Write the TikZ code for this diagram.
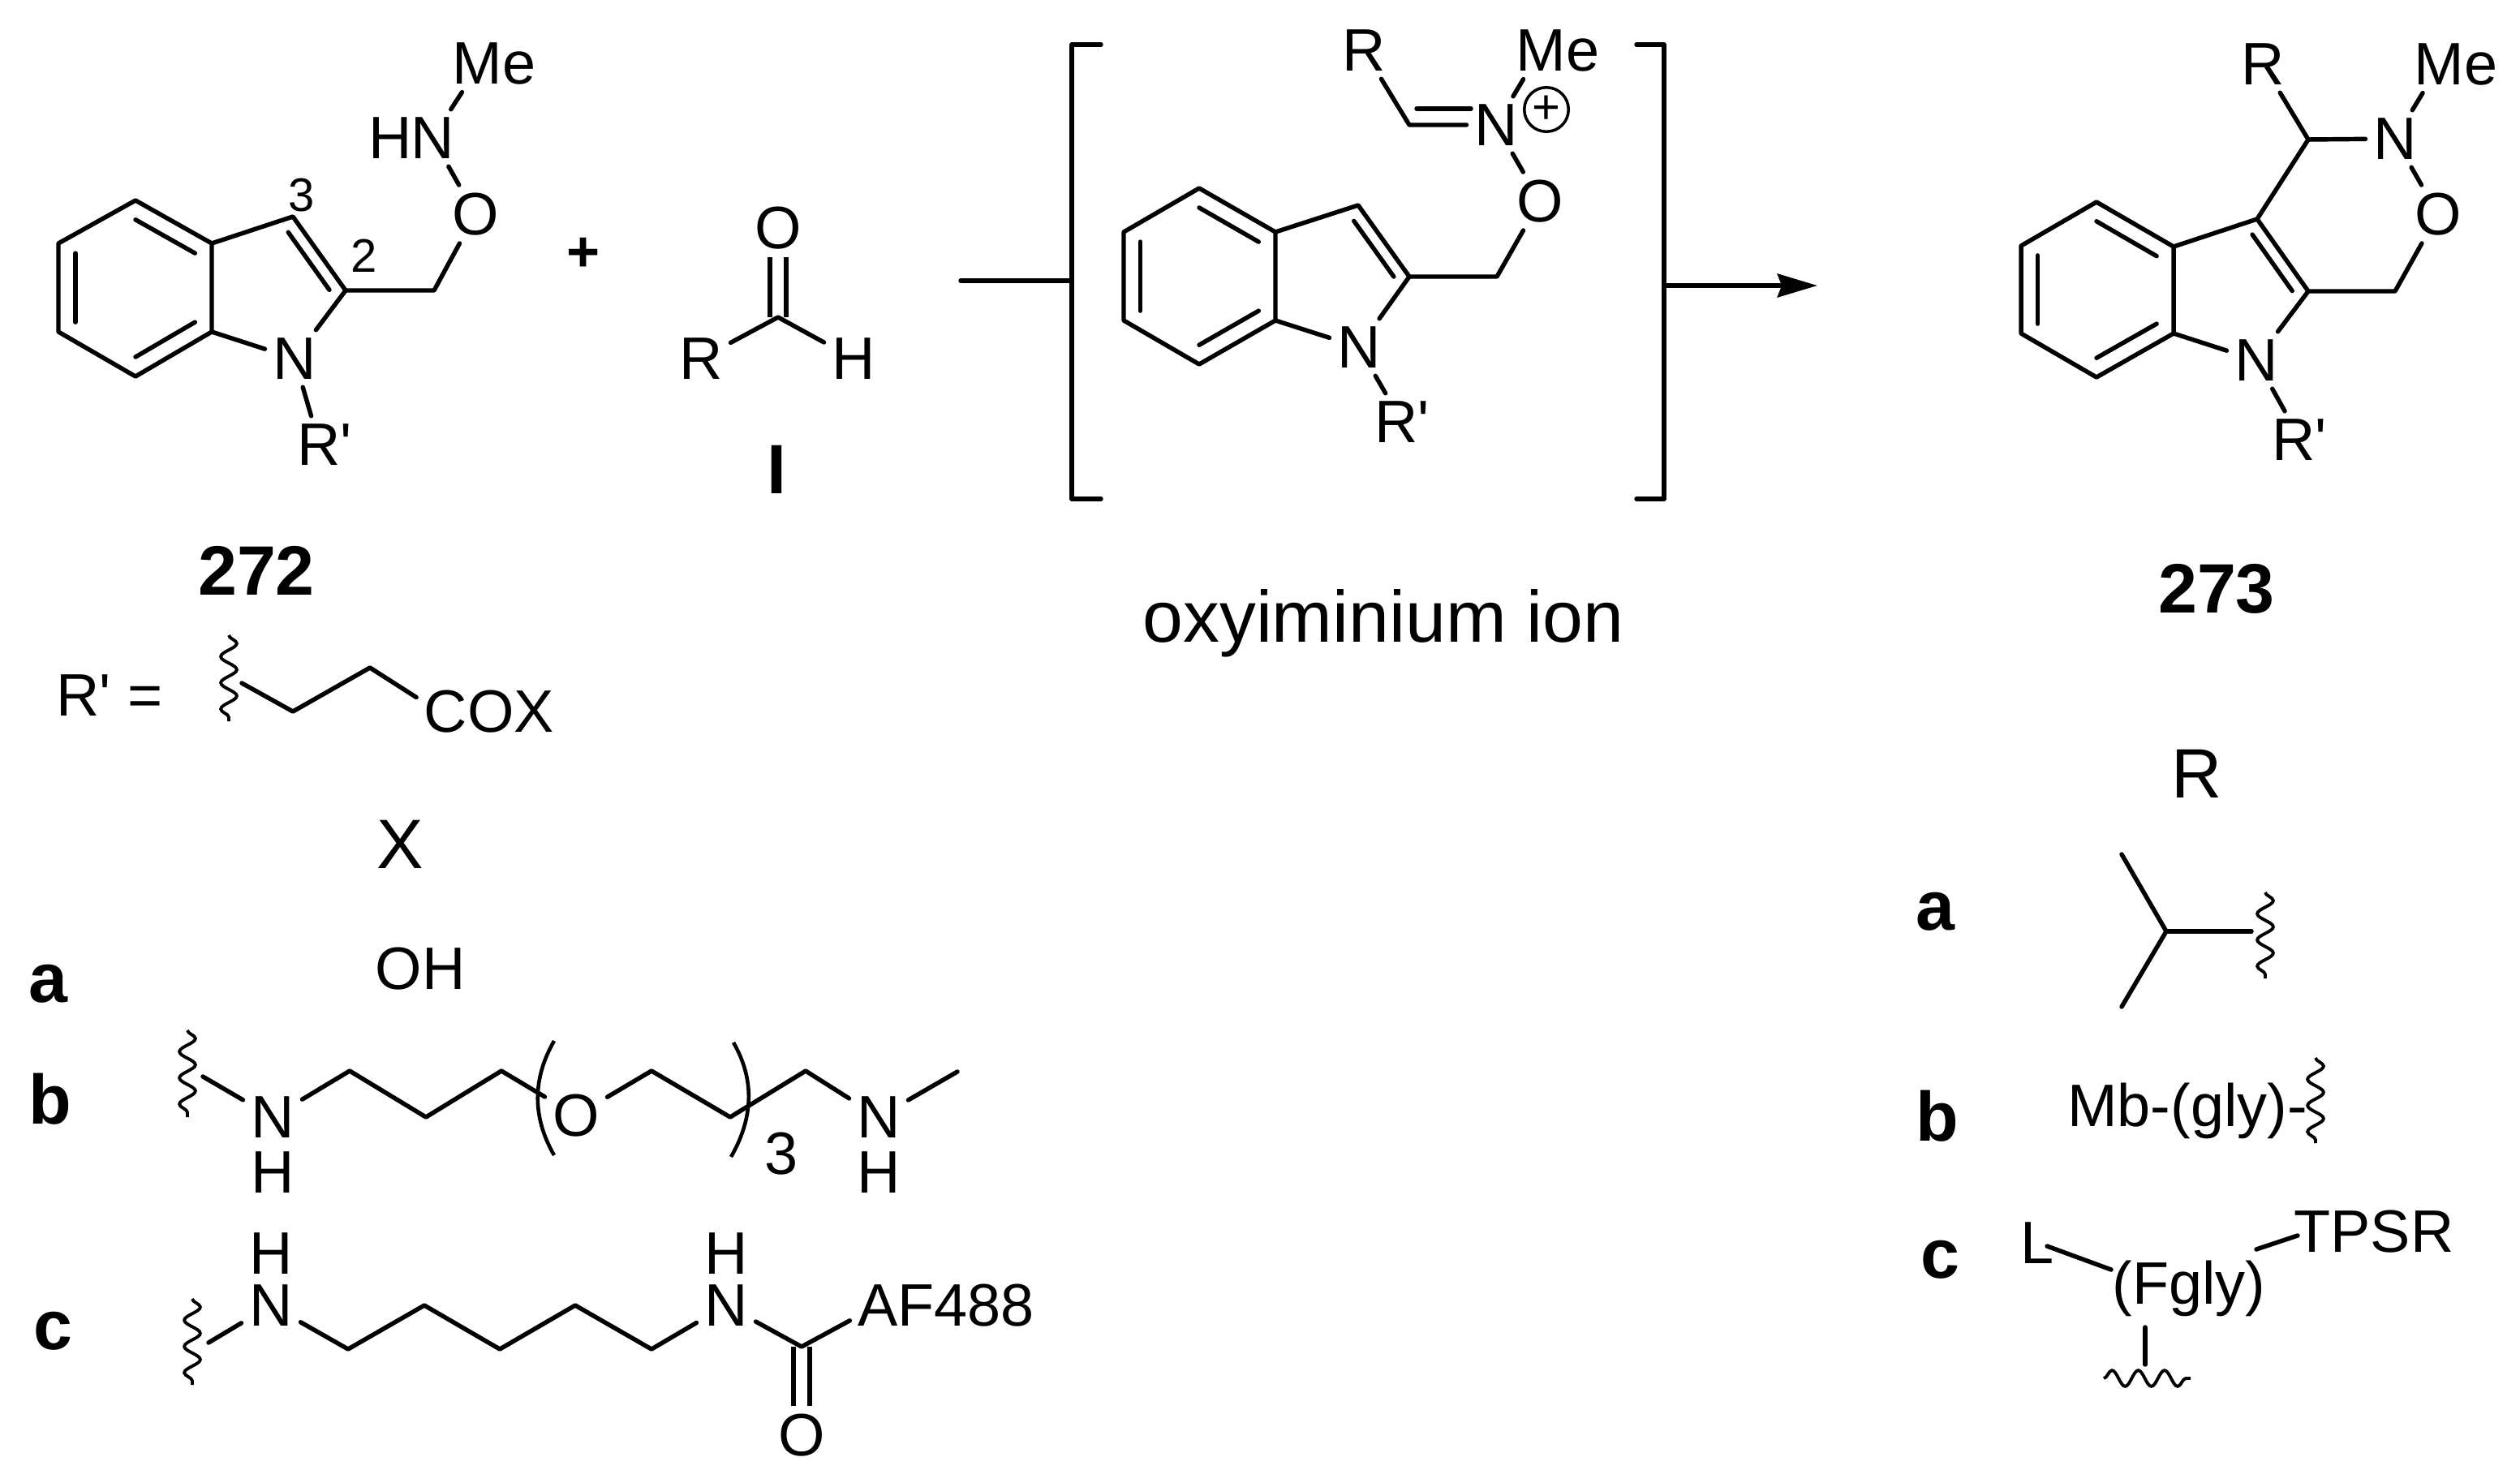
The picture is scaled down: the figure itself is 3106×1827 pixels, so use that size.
\documentclass[tikz,border=0pt]{standalone}
\usepackage{fontspec}
\setmainfont{Liberation Sans}
\usetikzlibrary{calc,arrows.meta,decorations.pathmorphing}
\newcommand{\innerbond}[3]{\draw[bond] ($(#1)!0.78!(#2)$) -- ($(#1)!0.78!(#3)$);}
\tikzset{
  bond/.style={line width=1.55pt, line cap=round, line join=round},
  dbl/.style={line width=1.55pt, line cap=butt, double, double distance=4.1pt},
  paren/.style={line width=1.3pt},
  wavy/.style={line width=1.1pt, decorate, decoration={snake, amplitude=2.8pt, segment length=9.2pt}},
  atom/.style={inner sep=0pt, outer sep=2.8pt, font=\fontsize{21pt}{24pt}\selectfont},
  num/.style={inner sep=0pt, font=\fontsize{16.5pt}{20pt}\selectfont},
  big/.style={inner sep=0pt, font=\fontsize{24.5pt}{28pt}\selectfont},
  tag/.style={inner sep=0pt, font=\fontsize{24.5pt}{28pt}\selectfont\bfseries},
}
\begin{document}
\begin{tikzpicture}[x=0.01cm,y=-0.01cm]
\useasboundingbox (0,0) rectangle (3106,1827);

\coordinate (a1) at (167,247);
\coordinate (a2) at (261,300);
\coordinate (a3) at (261,409);
\coordinate (a4) at (167,464);
\coordinate (a5) at (72,409);
\coordinate (a6) at (72,300);
\coordinate (ac) at (167,355);
\coordinate (af) at (335,355);
\coordinate (ac3) at (361,267);
\coordinate (ac2) at (426,358);
\coordinate (ach) at (535,358);
\node[atom] (an) at (363,442) {N};
\node[atom] (arp) at (400,548) {R\textquotesingle};
\node[atom] (ao) at (586,264) {O};
\node[atom] (ann) at (533,170) {N};
\node[atom] (ahh) at (481,170) {H};
\node[atom] (ame) at (609,78) {Me};
\node[num] (alab3) at (372,241) {3};
\node[num] (alab2) at (449,315) {2};
\draw[bond] (a1) -- (a2) -- (a3) -- (a4) -- (a5) -- (a6) -- cycle;
\draw[bond] (a2) -- (ac3) -- (ac2) -- (ach) -- (ao) -- (ann) -- (ame.222);
\draw[bond] (a3) -- (an) -- (ac2);
\draw[bond] (an) -- (arp.115);
\innerbond{ac}{a1}{a2}
\innerbond{ac}{a3}{a4}
\innerbond{ac}{a5}{a6}
\innerbond{af}{ac3}{ac2}

\node[font=\fontsize{20pt}{24pt}\selectfont\bfseries, inner sep=0pt] (plus) at (719,314) {+};

\node[atom] (io) at (959,281) {O};
\coordinate (ic) at (959,391);
\node[atom] (ir) at (864,442) {R};
\node[atom] (ih) at (1052,442) {H};
\draw[dbl] (io) -- (ic);
\draw[bond] (ir) -- (ic) -- (ih);
\node[tag] (inum) at (957,579) {I};

\node[tag] (num272) at (316,703) {272};
\node[atom] (req) at (135,857) {R\textquotesingle{} =};
\coordinate (w1a) at (282,783);
\coordinate (w1b) at (282,889);
\coordinate (w1m) at (298,842);
\coordinate (x1) at (361,877);
\coordinate (x2) at (456,823);
\node[atom] (cox) at (603,877) {COX};
\draw[wavy] (w1a) -- (w1b);
\draw[bond] (w1m) -- (x1) -- (x2) -- (cox.169);

\node[big] (xhead) at (493,1041) {X};
\node[tag] (la) at (59,1213) {a};
\node[atom] (oh) at (518,1194) {OH};

\node[tag] (lb) at (62,1355) {b};
\coordinate (w2a) at (231,1270);
\coordinate (w2b) at (231,1377);
\coordinate (w2m) at (250,1327);
\node[atom] (bn1) at (336,1377) {N};
\node[atom] (bh1) at (336,1445) {H};
\coordinate (b1) at (431,1320);
\coordinate (b2) at (525,1377);
\coordinate (b3) at (618,1320);
\node[atom] (bo) at (710,1375) {O};
\coordinate (b4) at (803,1320);
\coordinate (b5) at (900,1377);
\coordinate (b6) at (993,1320);
\node[atom] (bn2) at (1083,1377) {N};
\node[atom] (bh2) at (1083,1445) {H};
\coordinate (b7) at (1180,1321);
\coordinate (pl1) at (683,1283);
\coordinate (pl2) at (683,1424);
\coordinate (pr1) at (904,1285);
\coordinate (pr2) at (901,1426);
\node[atom] (bthree) at (963,1422) {3};
\draw[wavy] (w2a) -- (w2b);
\draw[bond] (w2m) -- (bn1) -- (b1) -- (b2) -- (b3) -- (bo) -- (b4) -- (b5) -- (b6) -- (bn2) -- (b7);
\draw[paren] (pl1) .. controls +(-27,47) and +(-27,-47) .. (pl2);
\draw[paren] (pr1) .. controls +(27,47) and +(27,-47) .. (pr2);

\node[tag] (lc) at (65,1641) {c};
\coordinate (w3a) at (237,1601);
\coordinate (w3b) at (237,1707);
\coordinate (w3m) at (257,1655);
\node[atom] (cn1) at (334,1609) {N};
\node[atom] (ch1) at (334,1545) {H};
\coordinate (c1) at (429,1663);
\coordinate (c2) at (523,1609);
\coordinate (c3) at (616,1663);
\coordinate (c4) at (709,1609);
\coordinate (c5) at (803,1663);
\node[atom] (cn2) at (895,1609) {N};
\node[atom] (ch2) at (895,1545) {H};
\coordinate (c6) at (988,1660);
\node[atom] (caf) at (1166,1609) {AF488};
\node[atom] (co) at (988,1769) {O};
\draw[wavy] (w3a) -- (w3b);
\draw[dbl] (co) -- (c6);
\draw[bond] (w3m) -- (cn1) -- (c1) -- (c2) -- (c3) -- (c4) -- (c5) -- (cn2) -- (c6) -- (caf.189);

\coordinate (stub) at (1184,346);
\coordinate (bl0) at (1321,346);
\coordinate (bl1) at (1357,55);
\coordinate (bl2) at (1321,55);
\coordinate (bl3) at (1321,615);
\coordinate (bl4) at (1357,615);
\coordinate (br1) at (2017,55);
\coordinate (br2) at (2051,55);
\coordinate (br3) at (2051,615);
\coordinate (br4) at (2017,615);
\coordinate (br0) at (2051,352);
\coordinate (tip) at (2240,352);
\draw[bond] (bl1) -- (bl2) -- (bl3) -- (bl4);
\draw[bond] (br1) -- (br2) -- (br3) -- (br4);
\draw[bond] (stub) -- (bl0);
\draw[bond,-{Stealth[length=14pt,width=8.2pt,inset=1.5pt]}] (br0) -- (tip);

\coordinate (m1) at (1478,232);
\coordinate (m2) at (1572,286);
\coordinate (m3) at (1572,395);
\coordinate (m4) at (1478,449);
\coordinate (m5) at (1385,395);
\coordinate (m6) at (1385,286);
\coordinate (mc) at (1478,341);
\coordinate (mf) at (1650,341);
\coordinate (mc3) at (1674,253);
\coordinate (mc2) at (1737,341);
\coordinate (mch) at (1845,341);
\coordinate (meq) at (1737,154);
\coordinate (mu1) at (1746,134);
\coordinate (mu2) at (1813,134);
\node[atom] (mn) at (1675,428) {N};
\node[atom] (mrp) at (1728,520) {R\textquotesingle};
\node[atom] (mo) at (1898,248) {O};
\node[atom] (mnn) at (1844,154) {N};
\node[atom] (mr) at (1681,62) {R};
\node[atom] (mme) at (1920,62) {Me};
\node[circle, draw, line width=1pt, minimum size=15.5pt, inner sep=0pt, font=\fontsize{17pt}{18pt}\selectfont] (mplus) at (1906,135) {+};
\draw[bond] (m1) -- (m2) -- (m3) -- (m4) -- (m5) -- (m6) -- cycle;
\draw[bond] (m2) -- (mc3) -- (mc2) -- (mch) -- (mo) -- (mnn) -- (mme.220);
\draw[bond] (m3) -- (mn) -- (mc2);
\draw[bond] (mn) -- (mrp.120);
\draw[bond] (mr) -- (meq) -- (mnn);
\draw[bond] (mu1) -- (mu2);
\innerbond{mc}{m1}{m2}
\innerbond{mc}{m3}{m4}
\innerbond{mc}{m5}{m6}
\innerbond{mf}{mc3}{mc2}
\node[font=\fontsize{25.5pt}{30pt}\selectfont, inner sep=0pt, anchor=base] (oxy) at (1705,791) {oxyiminium ion};

\coordinate (p1) at (2584,249);
\coordinate (p2) at (2679,304);
\coordinate (p3) at (2679,411);
\coordinate (p4) at (2584,465);
\coordinate (p5) at (2491,411);
\coordinate (p6) at (2491,303);
\coordinate (pc) at (2584,357);
\coordinate (pf) at (2755,357);
\coordinate (pc3) at (2782,270);
\coordinate (pc2) at (2845,359);
\coordinate (pch) at (2952,359);
\coordinate (pcr) at (2845,172);
\node[atom] (pn) at (2781,444) {N};
\node[atom] (prp) at (2834,542) {R\textquotesingle};
\node[atom] (po) at (3005,264) {O};
\node[atom] (pnn) at (2952,171) {N};
\node[atom] (pr) at (2789,79) {R};
\node[atom] (pme) at (3027,79) {Me};
\draw[bond] (p1) -- (p2) -- (p3) -- (p4) -- (p5) -- (p6) -- cycle;
\draw[bond] (p2) -- (pc3) -- (pc2) -- (pch) -- (po) -- (pnn) -- (pme.221);
\draw[bond] (p3) -- (pn) -- (pc2);
\draw[bond] (pn) -- (prp.117);
\draw[bond] (pc3) -- (pcr) -- (pnn);
\draw[bond] (pr) -- (pcr);
\innerbond{pc}{p1}{p2}
\innerbond{pc}{p3}{p4}
\innerbond{pc}{p5}{p6}
\innerbond{pf}{pc3}{pc2}
\node[tag] (num273) at (2732,726) {273};

\node[big] (rhead) at (2708,954) {R};

\node[tag] (ra) at (2385,1124) {a};
\coordinate (i0) at (2670,1148);
\coordinate (i1) at (2615,1053);
\coordinate (i2) at (2615,1241);
\coordinate (i3) at (2775,1148);
\coordinate (w4a) at (2792,1100);
\coordinate (w4b) at (2792,1206);
\draw[bond] (i1) -- (i0) -- (i2);
\draw[bond] (i0) -- (i3);
\draw[wavy] (w4a) -- (w4b);

\node[tag] (rb) at (2388,1376) {b};
\node[atom, anchor=base] (mbg) at (2696,1388) {Mb-(gly)-};
\coordinate (w5a) at (2854,1304);
\coordinate (w5b) at (2854,1409);
\draw[wavy] (w5a) -- (w5b);

\node[tag] (rc) at (2391,1553) {c};
\node[atom] (ll) at (2511,1532) {L};
\node[atom] (tpsr) at (2926,1518) {TPSR};
\node[atom, anchor=base] (fgly) at (2698,1607) {(Fgly)};
\coordinate (f1) at (2523,1536);
\coordinate (f2) at (2602,1565);
\coordinate (f3) at (2781,1540);
\coordinate (f4) at (2832,1523);
\coordinate (f5) at (2644,1636);
\coordinate (f6) at (2644,1682);
\coordinate (w6a) at (2593,1699);
\coordinate (w6b) at (2700,1699);
\draw[bond] (f1) -- (f2);
\draw[bond] (f3) -- (f4);
\draw[bond] (f5) -- (f6);
\draw[wavy] (w6a) -- (w6b);
\end{tikzpicture}
\end{document}
